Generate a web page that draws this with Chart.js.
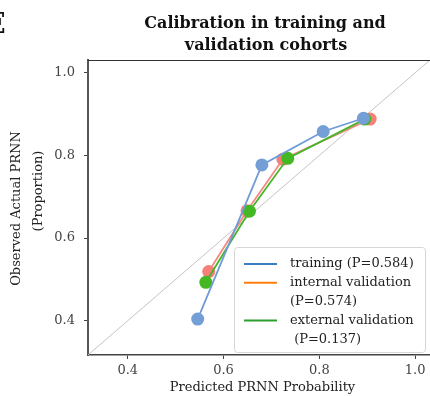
<!DOCTYPE html>
<html>
<head>
<meta charset="utf-8">
<script src="https://cdn.jsdelivr.net/npm/chart.js@4.4.1/dist/chart.umd.min.js"></script>
<style>
  html, body { margin: 0; padding: 0; background: #ffffff; }
  #wrap { width: 430px; height: 396px; position: relative; }
</style>
</head>
<body>
<div id="wrap"><canvas id="c" width="430" height="396"></canvas></div>
<script>
// ---- data ----
const trainX = [0.546, 0.680, 0.808, 0.892];
const trainY = [0.404, 0.777, 0.858, 0.890];
const intX   = [0.569, 0.649, 0.724, 0.906];
const intY   = [0.519, 0.666, 0.791, 0.888];
const extX   = [0.563, 0.654, 0.734, 0.895];
const extY   = [0.493, 0.665, 0.793, 0.888];
const diagXY = [0.2, 1.2];
const xTicks = [0.4, 0.6, 0.8, 1.0];
const yTicks = [0.4, 0.6, 0.8, 1.0];
const axisMin = 0.317, axisMax = 1.031;
const titleLines = ['Calibration in training and', 'validation cohorts'];
const xTitle = 'Predicted PRNN Probability';
const yTitleLines = ['Observed Actual PRNN', '(Proportion)'];
const panelLabel = 'E';
const legendEntries = [
  { lines: ['training (P=0.584)'], color: '#3a7ebf' },
  { lines: ['internal validation', '(P=0.574)'], color: '#ff7f0e' },
  { lines: ['external validation', ' (P=0.137)'], color: '#2ca02c' }
];

const pts = (xs, ys) => xs.map((x, i) => ({ x: x, y: ys[i] }));
const SERIF = '"DejaVu Serif", serif';

const decor = {
  id: 'decor',
  afterDraw(chart) {
    const ctx = chart.ctx, a = chart.chartArea;
    ctx.save();
    // top spine
    ctx.strokeStyle = '#333';
    ctx.lineWidth = 1.2;
    ctx.beginPath(); ctx.moveTo(a.left, a.top + 0.5); ctx.lineTo(a.right, a.top + 0.5); ctx.stroke();
    // title
    ctx.fillStyle = '#111';
    ctx.font = 'bold 16px ' + SERIF;
    ctx.textAlign = 'center'; ctx.textBaseline = 'alphabetic';
    ctx.fillText(titleLines[0], 265, 28);
    ctx.fillText(titleLines[1], 266, 50);
    // panel label
    ctx.font = 'bold 27px ' + SERIF;
    ctx.textAlign = 'right';
    ctx.fillText(panelLabel, 5.5, 33);
    // x title
    ctx.font = '13px ' + SERIF;
    ctx.fillStyle = '#222';
    ctx.textAlign = 'center';
    ctx.fillText(xTitle, 262.5, 391);
    // y title (rotated)
    ctx.save();
    ctx.translate(17, 208.5); ctx.rotate(-Math.PI / 2);
    ctx.textBaseline = 'middle';
    ctx.fillText(yTitleLines[0], 0, 0);
    ctx.restore();
    ctx.save();
    ctx.translate(38.5, 191); ctx.rotate(-Math.PI / 2);
    ctx.textBaseline = 'middle';
    ctx.fillText(yTitleLines[1], 0, 0);
    ctx.restore();
    // legend
    const bx = 234.5, by = 247.5, bw = 191, bh = 105, r = 3;
    ctx.beginPath();
    ctx.moveTo(bx + r, by); ctx.lineTo(bx + bw - r, by); ctx.arcTo(bx + bw, by, bx + bw, by + r, r);
    ctx.lineTo(bx + bw, by + bh - r); ctx.arcTo(bx + bw, by + bh, bx + bw - r, by + bh, r);
    ctx.lineTo(bx + r, by + bh); ctx.arcTo(bx, by + bh, bx, by + bh - r, r);
    ctx.lineTo(bx, by + r); ctx.arcTo(bx, by, bx + r, by, r);
    ctx.closePath();
    ctx.fillStyle = 'rgba(255,255,255,0.85)'; ctx.fill();
    ctx.strokeStyle = '#d6d6d6'; ctx.lineWidth = 1; ctx.stroke();
    let y = 264;
    const lh = 18.8;
    ctx.font = '13px ' + SERIF;
    ctx.textAlign = 'left'; ctx.textBaseline = 'middle';
    legendEntries.forEach(e => {
      ctx.strokeStyle = e.color; ctx.lineWidth = 2;
      ctx.beginPath(); ctx.moveTo(244, y); ctx.lineTo(277, y); ctx.stroke();
      ctx.fillStyle = '#222';
      e.lines.forEach((t, i) => ctx.fillText(t, 290, y + i * lh));
      y += e.lines.length * lh;
    });
    ctx.restore();
  }
};

new Chart(document.getElementById('c'), {
  type: 'scatter',
  data: {
    datasets: [
      { label: 'training', data: pts(trainX, trainY), showLine: true, order: 0,
        borderColor: '#6f9bd6', backgroundColor: '#739fd6', borderWidth: 1.8,
        pointRadius: 6.5, pointBorderWidth: 0, pointHoverRadius: 6.5 },
      { label: 'external validation', data: pts(extX, extY), showLine: true, order: 1,
        borderColor: '#44b526', backgroundColor: '#44b822', borderWidth: 1.8,
        pointRadius: 6.5, pointBorderWidth: 0, pointHoverRadius: 6.5 },
      { label: 'internal validation', data: pts(intX, intY), showLine: true, order: 2,
        borderColor: '#f48a84', backgroundColor: '#f5807a', borderWidth: 1.8,
        pointRadius: 6.5, pointBorderWidth: 0, pointHoverRadius: 6.5 },
      { label: 'diag', data: pts(diagXY, diagXY), showLine: true, order: 3,
        borderColor: '#c4c4c4', borderWidth: 1, pointRadius: 0, pointHoverRadius: 0 }
    ]
  },
  options: {
    responsive: false,
    animation: false,
    devicePixelRatio: 1,
    layout: { autoPadding: false, padding: { left: 0, top: 60, right: 0, bottom: 0 } },
    plugins: { legend: { display: false }, title: { display: false }, tooltip: { enabled: false } },
    scales: {
      x: {
        type: 'linear', min: axisMin, max: axisMax,
        afterFit(s) { s.height = 41; s.paddingLeft = 0; s.paddingRight = 0; },
        afterBuildTicks(s) { s.ticks = xTicks.map(v => ({ value: v })); },
        grid: { drawOnChartArea: false, drawTicks: true, tickLength: 4, color: '#444', tickWidth: 1 },
        border: { display: true, color: '#444', width: 1.5 },
        ticks: { padding: 4, color: '#444', font: { family: SERIF, size: 13 },
                 callback: v => Number(v).toFixed(1), maxRotation: 0 }
      },
      y: {
        type: 'linear', min: axisMin, max: axisMax,
        afterFit(s) { s.width = 88; s.paddingTop = 0; s.paddingBottom = 0; },
        afterBuildTicks(s) { s.ticks = yTicks.map(v => ({ value: v })); },
        grid: { drawOnChartArea: false, drawTicks: true, tickLength: 4, color: '#444', tickWidth: 1 },
        border: { display: true, color: '#555', width: 2 },
        ticks: { padding: 9, color: '#444', font: { family: SERIF, size: 13 },
                 callback: v => Number(v).toFixed(1) }
      }
    }
  },
  plugins: [decor]
});
</script>
</body>
</html>
